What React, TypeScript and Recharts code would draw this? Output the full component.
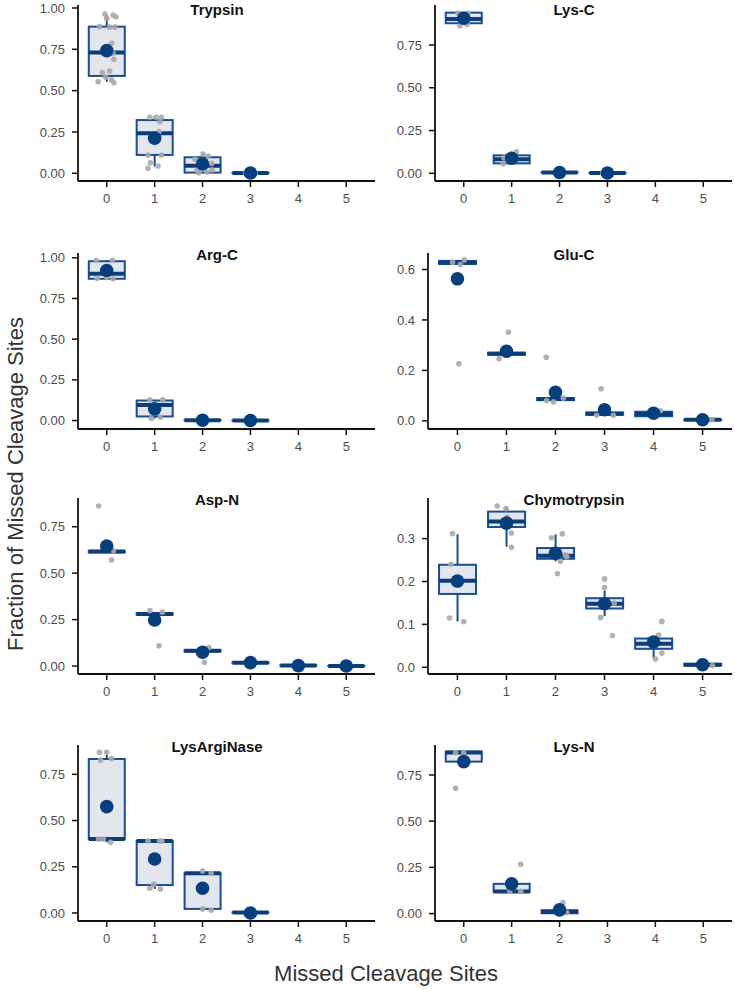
import React from "react";
import { ComposedChart, Bar, Scatter, XAxis, YAxis } from "recharts";

const FONT = "'Liberation Sans', Arial, Helvetica, sans-serif";
const SITES = ["0", "1", "2", "3", "4", "5"];

// box stats per missed-cleavage count: [whiskerLow, q1, median, q3, whiskerHigh]
type Box = [number, number, number, number, number] | null;

const trypsinBoxes: Box[] = [
  [0.554, 0.589, 0.73, 0.887, 0.958],
  [0.04, 0.111, 0.242, 0.322, 0.339],
  [0.004, 0.004, 0.046, 0.097, 0.117],
  [0.002, 0.002, 0.002, 0.002, 0.002],
  null,
  null,
];
const trypsinMeans = [0.742, 0.212, 0.056, 0.002, null, null];
const trypsinPoints = [
  [-0.04, 0.964], [0.13, 0.958], [0.19, 0.947], [0.0, 0.937], [-0.15, 0.887], [0.06, 0.884],
  [0.17, 0.884], [0.1, 0.786], [0.13, 0.726], [0.15, 0.69], [0.06, 0.619], [-0.09, 0.609],
  [-0.02, 0.581], [-0.18, 0.554], [0.1, 0.565], [0.15, 0.548],
  [0.9, 0.339], [1.03, 0.339], [1.14, 0.339], [1.11, 0.312], [1.09, 0.252], [0.86, 0.111],
  [1.14, 0.111], [0.91, 0.064], [1.07, 0.044], [0.86, 0.03],
  [2.01, 0.117], [2.12, 0.105], [1.84, 0.085], [2.19, 0.06], [1.88, 0.02], [2.09, 0.006],
  [1.92, 0.004], [2.2, 0.02],
  [2.9, 0.002], [3.1, 0.002],
];

const lysCBoxes: Box[] = [
  [0.868, 0.877, 0.902, 0.939, 0.939],
  [0.055, 0.058, 0.082, 0.105, 0.126],
  [0.005, 0.005, 0.005, 0.005, 0.005],
  [0.002, 0.002, 0.002, 0.002, 0.002],
  null,
  null,
];
const lysCMeans = [0.906, 0.088, 0.005, 0.002, null, null];
const lysCPoints = [
  [-0.12, 0.935], [0.09, 0.935], [-0.08, 0.861], [0.07, 0.87],
  [1.1, 0.126], [0.82, 0.055], [0.84, 0.09], [1.95, 0.005], [2.9, 0.002],
];

const argCBoxes: Box[] = [
  [0.871, 0.871, 0.902, 0.979, 0.985],
  [0.014, 0.025, 0.096, 0.123, 0.127],
  [0.002, 0.002, 0.002, 0.002, 0.002],
  [0, 0, 0, 0, 0],
  null,
  null,
];
const argCMeans = [0.922, 0.072, 0.002, 0, null, null];
const argCPoints = [
  [-0.22, 0.985], [0.12, 0.985], [-0.2, 0.874], [0.13, 0.871], [0.0, 0.88],
  [0.9, 0.127], [1.17, 0.127], [0.93, 0.014], [1.12, 0.02],
];

const gluCBoxes: Box[] = [
  [0.622, 0.622, 0.628, 0.634, 0.638],
  [0.262, 0.262, 0.266, 0.27, 0.27],
  [0.08, 0.082, 0.086, 0.09, 0.09],
  [0.022, 0.024, 0.028, 0.033, 0.033],
  [0.018, 0.018, 0.027, 0.036, 0.036],
  [0.004, 0.004, 0.004, 0.004, 0.004],
];
const gluCMeans = [0.563, 0.276, 0.113, 0.044, 0.03, 0.004];
const gluCPoints = [
  [-0.1, 0.629], [0.06, 0.62], [0.14, 0.638], [0.03, 0.226],
  [1.04, 0.351], [0.85, 0.246],
  [1.81, 0.252], [1.82, 0.08], [1.96, 0.075], [2.16, 0.09],
  [2.93, 0.127], [2.84, 0.022], [3.18, 0.022],
  [4.14, 0.04], [5.19, 0.004],
];

const aspNBoxes: Box[] = [
  [0.612, 0.612, 0.616, 0.62, 0.62],
  [0.276, 0.276, 0.28, 0.284, 0.284],
  [0.078, 0.078, 0.082, 0.086, 0.086],
  [0.016, 0.016, 0.018, 0.02, 0.02],
  [0.002, 0.002, 0.003, 0.004, 0.004],
  [0, 0, 0, 0, 0],
];
const aspNMeans = [0.646, 0.248, 0.074, 0.018, 0.002, 0];
const aspNPoints = [
  [-0.17, 0.862], [0.1, 0.571], [0.14, 0.62],
  [0.9, 0.298], [1.09, 0.109], [1.16, 0.29],
  [2.04, 0.02], [2.13, 0.1],
];

const chymoBoxes: Box[] = [
  [0.107, 0.171, 0.202, 0.239, 0.31],
  [0.281, 0.327, 0.34, 0.363, 0.372],
  [0.247, 0.253, 0.26, 0.278, 0.31],
  [0.119, 0.137, 0.148, 0.161, 0.179],
  [0.02, 0.043, 0.055, 0.067, 0.067],
  [0.004, 0.004, 0.006, 0.008, 0.008],
];
const chymoMeans = [0.201, 0.336, 0.266, 0.148, 0.059, 0.006];
const chymoPoints = [
  [-0.1, 0.312], [-0.13, 0.24], [-0.16, 0.115], [0.13, 0.106],
  [0.81, 0.376], [0.99, 0.37], [1.1, 0.313], [1.1, 0.28], [1.02, 0.35],
  [1.92, 0.302], [2.14, 0.311], [2.23, 0.258], [2.1, 0.247], [2.04, 0.218], [2.2, 0.262],
  [3.0, 0.206], [3.0, 0.186], [2.92, 0.116], [3.16, 0.074], [3.2, 0.15],
  [4.17, 0.107], [4.1, 0.075], [4.17, 0.033], [4.04, 0.019],
  [5.2, 0.004],
];

const lysArgBoxes: Box[] = [
  [0.382, 0.4, 0.4, 0.833, 0.855],
  [0.13, 0.151, 0.389, 0.389, 0.389],
  [0.015, 0.022, 0.215, 0.215, 0.227],
  [0.003, 0.003, 0.003, 0.003, 0.003],
  null,
  null,
];
const lysArgMeans = [0.575, 0.292, 0.134, 0, null, null];
const lysArgPoints = [
  [-0.15, 0.869], [0.0, 0.869], [-0.13, 0.827], [0.1, 0.835], [-0.17, 0.4], [-0.07, 0.4], [0.08, 0.382],
  [0.86, 0.389], [1.1, 0.389], [1.15, 0.389], [0.98, 0.156], [0.9, 0.134], [1.12, 0.13],
  [2.0, 0.227], [2.18, 0.215], [2.0, 0.022], [2.18, 0.015],
  [3.0, 0.002],
];

const lysNBoxes: Box[] = [
  [0.822, 0.822, 0.871, 0.876, 0.876],
  [0.117, 0.117, 0.12, 0.161, 0.161],
  [0.002, 0.002, 0.01, 0.018, 0.018],
  null,
  null,
  null,
];
const lysNMeans = [0.822, 0.161, 0.02, null, null, null];
const lysNPoints = [
  [-0.17, 0.871], [0.0, 0.871], [-0.17, 0.678],
  [1.19, 0.267], [0.96, 0.12], [1.19, 0.12],
  [2.07, 0.06], [2.15, 0.005],
];

const TICKS_QUARTER = [0, 0.25, 0.5, 0.75, 1];
const TICKS_TENTH = [0, 0.1, 0.2, 0.3, 0.4, 0.5, 0.6];

const PANELS = [
  { title: "Trypsin", boxes: trypsinBoxes, means: trypsinMeans, points: trypsinPoints, domain: [-0.0466, 1.0181], ticks: TICKS_QUARTER, digits: 2, col: 0, row: 0, yWidth: 78 },
  { title: "Lys-C", boxes: lysCBoxes, means: lysCMeans, points: lysCPoints, domain: [-0.045, 0.9837], ticks: TICKS_QUARTER, digits: 2, col: 1, row: 0, yWidth: 70 },
  { title: "Arg-C", boxes: argCBoxes, means: argCMeans, points: argCPoints, domain: [-0.052, 1.0295], ticks: TICKS_QUARTER, digits: 2, col: 0, row: 1, yWidth: 78 },
  { title: "Glu-C", boxes: gluCBoxes, means: gluCMeans, points: gluCPoints, domain: [-0.0325, 0.6654], ticks: [0, 0.2, 0.4, 0.6], digits: 1, col: 1, row: 1, yWidth: 63 },
  { title: "Asp-N", boxes: aspNBoxes, means: aspNMeans, points: aspNPoints, domain: [-0.043, 0.9047], ticks: TICKS_QUARTER, digits: 2, col: 0, row: 2, yWidth: 78 },
  { title: "Chymotrypsin", boxes: chymoBoxes, means: chymoMeans, points: chymoPoints, domain: [-0.0157, 0.3947], ticks: TICKS_TENTH, digits: 1, col: 1, row: 2, yWidth: 63 },
  { title: "LysArgiNase", boxes: lysArgBoxes, means: lysArgMeans, points: lysArgPoints, domain: [-0.0434, 0.9086], ticks: TICKS_QUARTER, digits: 2, col: 0, row: 3, yWidth: 78 },
  { title: "Lys-N", boxes: lysNBoxes, means: lysNMeans, points: lysNPoints, domain: [-0.04, 0.912], ticks: TICKS_QUARTER, digits: 2, col: 1, row: 3, yWidth: 70 },
];

// layout
const PLOT_TOPS = [5, 252.5, 498, 745];
const PLOT_H = 176;
const AXIS_H = 30;
const COLS = [
  { left: 0, width: 380, right: 5, titleX: 217 },
  { left: 365, width: 370, right: 3, titleX: 574 },
];

const BOX_STROKE = "#1B4E8E";
const BOX_FILL = "#E3E5EF";
const MEDIAN = "#0B3D7A";
const MEAN = "#063F7C";
const POINT = "#A9A9A9";
const TICK = { fontSize: 13, fill: "#4D4D4D", fontFamily: FONT };

const BoxShape = (props: any) => {
  const { x, y, width, height, payload } = props;
  const b = payload && payload.box;
  if (!b) return null;
  const [lo, q1, med, q3, hi] = b;
  const top = Math.min(y, y + height);
  const bottom = Math.max(y, y + height);
  const span = hi - lo;
  const py = (v: number) => (span === 0 ? top : bottom - ((v - lo) / span) * (bottom - top));
  const cx = x + width / 2;
  return (
    <g>
      <line x1={cx} x2={cx} y1={py(hi)} y2={py(q3)} stroke={BOX_STROKE} strokeWidth={2} />
      <line x1={cx} x2={cx} y1={py(q1)} y2={py(lo)} stroke={BOX_STROKE} strokeWidth={2} />
      <rect
        x={x}
        y={py(q3)}
        width={width}
        height={Math.max(py(q1) - py(q3), 0.01)}
        fill={BOX_FILL}
        stroke={BOX_STROKE}
        strokeWidth={2}
      />
      <line x1={x} x2={x + width} y1={py(med)} y2={py(med)} stroke={MEDIAN} strokeWidth={4} />
    </g>
  );
};

const Dot = (props: any) => <circle cx={props.cx} cy={props.cy} r={2.8} fill={POINT} fillOpacity={0.9} />;
const MeanDot = (props: any) => <circle cx={props.cx} cy={props.cy} r={6.8} fill={MEAN} />;

function Panel({ p }: { p: (typeof PANELS)[number] }) {
  const col = COLS[p.col];
  const plotW = col.width - p.yWidth - col.right;
  const pad = (plotW / 6.2) * 0.1;
  const rows = SITES.map((s, i) => {
    const b = p.boxes[i];
    return { site: s, range: b ? [b[0], b[4]] : null, box: b };
  });
  const means = p.means
    .map((m, i) => (m == null ? null : { x: i, y: m }))
    .filter((d) => d !== null);
  const pts = p.points.map(([x, y]) => ({ x, y }));
  const top = PLOT_TOPS[p.row];
  return (
    <div style={{ position: "absolute", left: col.left, top: top - 5 }}>
      <ComposedChart
        width={col.width}
        height={5 + PLOT_H + AXIS_H}
        data={rows}
        margin={{ top: 5, right: col.right, bottom: 0, left: 0 }}
        barCategoryGap="12.5%"
      >
        <XAxis
          xAxisId="cat"
          dataKey="site"
          type="category"
          padding={{ left: pad, right: pad }}
          height={AXIS_H}
          axisLine={{ stroke: "#111", strokeWidth: 1.8 }}
          tickLine={{ stroke: "#111", strokeWidth: 1.5 }}
          tickSize={6}
          tickMargin={7}
          tick={TICK}
          interval={0}
        />
        <XAxis xAxisId="jit" dataKey="x" type="number" domain={[-0.6, 5.6]} allowDataOverflow hide />
        <YAxis
          type="number"
          domain={p.domain}
          allowDataOverflow
          ticks={p.ticks.filter((t) => t <= p.domain[1])}
          interval={0}
          width={p.yWidth}
          tickFormatter={(v: number) => v.toFixed(p.digits)}
          axisLine={{ stroke: "#111", strokeWidth: 1.8 }}
          tickLine={{ stroke: "#111", strokeWidth: 1.5 }}
          tickSize={6}
          tickMargin={7}
          tick={TICK}
        />
        <Bar xAxisId="cat" dataKey="range" shape={BoxShape} isAnimationActive={false} />
        <Scatter xAxisId="jit" data={pts} dataKey="y" shape={Dot} isAnimationActive={false} />
        <Scatter xAxisId="jit" data={means} dataKey="y" shape={MeanDot} isAnimationActive={false} />
      </ComposedChart>
    </div>
  );
}

export default function App() {
  return (
    <div style={{ position: "absolute", left: 0, top: 0, width: 735, height: 989, background: "#fff", fontFamily: FONT }}>
      {PANELS.map((p) => (
        <Panel key={p.title} p={p} />
      ))}
      <svg width={735} height={989} style={{ position: "absolute", left: 0, top: 0, pointerEvents: "none" }}>
        {PANELS.map((p) => (
          <text
            key={p.title}
            x={COLS[p.col].titleX}
            y={Math.max(PLOT_TOPS[p.row] + 7, 15)}
            textAnchor="middle"
            fontFamily={FONT}
            fontWeight="bold"
            fontSize={15}
            fill="#111"
          >
            {p.title}
          </text>
        ))}
        <text x={386} y={981} textAnchor="middle" fontFamily={FONT} fontSize={22} fill="#333">
          Missed Cleavage Sites
        </text>
        <text
          transform="translate(22.5,484) rotate(-90)"
          textAnchor="middle"
          fontFamily={FONT}
          fontSize={22}
          fill="#333"
        >
          Fraction of Missed Cleavage Sites
        </text>
      </svg>
    </div>
  );
}
